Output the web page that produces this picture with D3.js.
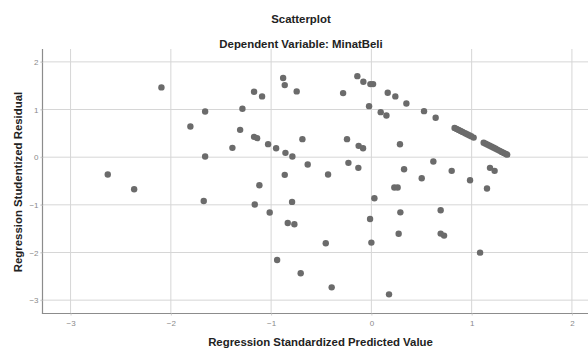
<!DOCTYPE html>
<html>
<head>
<meta charset="utf-8">
<script src="https://cdn.jsdelivr.net/npm/d3@7"></script>
<style>
  html, body { margin: 0; padding: 0; background: #fff; }
  svg { display: block; font-family: "Liberation Sans", Arial, sans-serif; }
</style>
</head>
<body>
<svg id="chart" width="588" height="348"></svg>
<script>
// ---- Data ----
const title = "Scatterplot";
const subtitle = "Dependent Variable: MinatBeli";
const xLabel = "Regression Standardized Predicted Value";
const yLabel = "Regression Studentized Residual";
const xTicks = [-3, -2, -1, 0, 1, 2];
const yTicks = [2, 1, 0, -1, -2, -3];

const predicted = [
  -2.629, -2.366, -2.094, -1.805, -1.658, -1.658, -1.672, -1.386, -1.309, -1.286,
  -1.170, -1.090, -1.170, -1.140, -1.030, -0.950, -0.857, -0.788, -0.880, -0.864,
  -0.745, -0.688, -0.635, -0.864, -0.432, -1.117, -1.163, -0.791, -1.014, -0.834,
  -0.768, -0.455, -0.940, -0.705, -0.396, -0.282, -0.140, -0.080, -0.010, 0.017,
  -0.023, 0.093, 0.150, 0.163, 0.239, 0.349, 0.525, 0.641, -0.243, -0.127,
  -0.083, -0.229, -0.130, 0.285, 0.229, 0.262, 0.030, -0.013, 0.000, 0.176,
  0.272, 0.289, 0.618, 0.326, 0.502, 0.801, 0.984, 1.183, 1.229, 1.153,
  0.691, 0.691, 0.725, 1.084,
  0.83, 0.85, 0.87, 0.89, 0.91, 0.935, 0.955, 0.975, 0.995, 1.02,
  1.12, 1.14, 1.16, 1.18, 1.20, 1.22, 1.24, 1.26, 1.28, 1.30, 1.32, 1.34, 1.355
];
const residual = [
  -0.363, -0.672, 1.464, 0.645, 0.960, 0.015, -0.918, 0.196, 0.574, 1.015,
  1.372, 1.275, 0.427, 0.399, 0.273, 0.189, 0.091, 0.014, 1.660, 1.513,
  1.380, 0.378, -0.154, -0.371, -0.364, -0.588, -0.994, -0.938, -1.162, -1.380,
  -1.408, -1.807, -2.157, -2.437, -2.731, 1.345, 1.700, 1.582, 1.534, 1.534,
  1.071, 0.945, 0.875, 1.351, 1.275, 1.128, 0.966, 0.826, 0.378, 0.238,
  0.189, -0.119, -0.224, 0.270, -0.637, -0.637, -0.861, -1.296, -1.792, -2.878,
  -1.607, -1.158, -0.091, -0.252, -0.441, -0.287, -0.483, -0.224, -0.287, -0.658,
  -1.113, -1.603, -1.645, -2.003,
  0.614, 0.593, 0.572, 0.550, 0.529, 0.502, 0.481, 0.459, 0.438, 0.411,
  0.304, 0.283, 0.261, 0.240, 0.218, 0.197, 0.176, 0.154, 0.133, 0.111, 0.090, 0.069, 0.053
];

const points = predicted.map((p, i) => ({ x: p, y: residual[i] }));

// ---- Layout ----
const svg = d3.select("#chart");
const plot = { left: 42.5, top: 49, bottom: 313.5, right: 602 };

const x = d3.scaleLinear().domain([-3.28, 2.3]).range([plot.left, plot.right]);
const y = d3.scaleLinear().domain([2.27, -3.28]).range([plot.top, plot.bottom]);

// Titles
svg.append("text").attr("x", 301).attr("y", 23).attr("text-anchor", "middle")
  .attr("font-size", 11.4).attr("font-weight", "bold").attr("fill", "#222").text(title);
svg.append("text").attr("x", 301).attr("y", 47.6).attr("text-anchor", "middle")
  .attr("font-size", 11.4).attr("font-weight", "bold").attr("fill", "#222").text(subtitle);

// Grid
const g = svg.append("g");
g.selectAll("line.vg").data(xTicks).join("line").attr("class", "vg")
  .attr("x1", d => x(d)).attr("x2", d => x(d))
  .attr("y1", plot.top).attr("y2", plot.bottom)
  .attr("stroke", "#d6d6d6").attr("stroke-width", 1);
g.selectAll("line.hg").data(yTicks).join("line").attr("class", "hg")
  .attr("x1", plot.left - 2).attr("x2", plot.right)
  .attr("y1", d => y(d)).attr("y2", d => y(d))
  .attr("stroke", "#d6d6d6").attr("stroke-width", 1);

// Axes via d3
const xAxis = d3.axisBottom(x).tickValues(xTicks).tickSize(2).tickSizeOuter(0).tickFormat(d3.format("d"));
const yAxis = d3.axisLeft(y).tickValues(yTicks).tickSize(2).tickSizeOuter(0).tickFormat(d3.format("d"));

const gx = svg.append("g").attr("transform", `translate(0,${plot.bottom})`).call(xAxis);
const gy = svg.append("g").attr("transform", `translate(${plot.left},0)`).call(yAxis);

[gx, gy].forEach(a => {
  a.select(".domain").attr("stroke", "#8c8c8c").attr("stroke-width", 1.2);
  a.selectAll(".tick line").attr("stroke", "#cfcfcf");
  a.selectAll(".tick text").attr("fill", "#8a8a8a").attr("font-size", 8)
    .attr("font-family", "Liberation Sans, Arial, sans-serif");
});
gx.selectAll(".tick text").attr("dy", "0").attr("y", 12);
gy.selectAll(".tick text").attr("x", -4);
gy.select(".domain").attr("d", `M0,${plot.top}V${plot.bottom}`);
gx.select(".domain").attr("d", `M${plot.left - 0.6},0H${plot.right}`);

// Axis titles
svg.append("text").attr("x", 320.5).attr("y", 346).attr("text-anchor", "middle")
  .attr("font-size", 11.4).attr("font-weight", "bold").attr("fill", "#222").text(xLabel);
svg.append("text").attr("transform", "translate(21.5,182) rotate(-90)").attr("text-anchor", "middle")
  .attr("font-size", 11.4).attr("font-weight", "bold").attr("fill", "#222").text(yLabel);

// Points
svg.append("g").selectAll("circle").data(points).join("circle")
  .attr("cx", d => x(d.x)).attr("cy", d => y(d.y)).attr("r", 3.2)
  .attr("fill", "#6b6b6b");
</script>
</body>
</html>
